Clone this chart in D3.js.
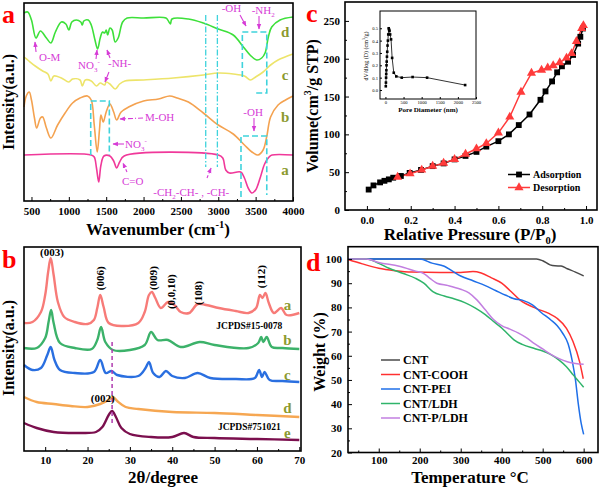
<!DOCTYPE html>
<html><head><meta charset="utf-8">
<script src="https://cdn.jsdelivr.net/npm/d3@7"></script>
<style>body{margin:0;background:#fff}svg{display:block}text{font-family:"Liberation Serif","Times New Roman",serif}</style>
</head><body><svg width="606" height="491"></svg>
<script>
// ---------- DATA ----------
// Panel a: FTIR spectra [wavenumber cm-1, intensity a.u.]
const ftirD = [[400,188],[450,189],[500,181],[560,163],[620,170],[700,163],[760,158],[820,169],[900,179],[960,177],[1000,171],[1040,179],[1100,181],[1160,179],[1180,176],[1200,180],[1260,181],[1300,176],[1350,161],[1385,152],[1420,163],[1450,169],[1480,168],[1500,171],[1520,166],[1550,173],[1580,171],[1620,159],[1660,163],[1720,179],[1780,183],[2000,183],[2300,183],[2340,179],[2360,177],[2380,182],[2600,182],[2800,178],[3000,172],[3200,166],[3336,154],[3425,146],[3514,141],[3581,143],[3626,148],[3670,164],[3715,174],[3827,181],[4000,184]];
const ftirC = [[400,144],[450,141],[550,135],[650,130],[720,127],[760,120],[800,125],[900,123],[1000,119],[1050,122],[1150,121],[1180,115],[1220,121],[1300,120],[1370,115],[1420,118],[1480,116],[1500,119],[1550,117],[1620,112],[1680,117],[1750,120],[2000,121],[2400,123],[2800,126],[3000,128],[3200,127],[3350,125],[3430,121],[3500,124],[3600,129],[3700,136],[3800,141],[4000,147]];
const ftirB = [[400,94],[430,105],[470,109],[500,101],[540,83],[570,73],[620,83],[650,84],[700,73],[760,63],[850,76],[950,88],[1050,98],[1150,103],[1250,105],[1300,101],[1340,76],[1380,49],[1410,71],[1430,86],[1460,79],[1500,89],[1550,97],[1600,89],[1640,81],[1700,89],[1800,94],[2000,100],[2200,102],[2350,105],[2450,103],[2600,99],[2800,88],[3000,76],[3200,67],[3350,56],[3450,49],[3530,46],[3600,51],[3650,65],[3700,84],[3800,96],[3900,101],[4000,105]];
const ftirA = [[400,46],[1300,46],[1340,44],[1370,33],[1400,19],[1430,36],[1470,45],[1550,45],[1600,40],[1640,33],[1680,39],[1740,45],[3000,46],[3060,43],[3100,31],[3150,28],[3300,29],[3350,23],[3400,13],[3450,8],[3500,11],[3560,23],[3620,37],[3680,44],[3720,46],[4000,46]];
const ftirTicks = [500,1000,1500,2000,2500,3000,3500,4000];

// Panel b: XRD [2theta, intensity a.u.]
const xrdA = [[5,128],[7,129],[9,139],[10,156],[10.7,179],[11.3,193],[12,176],[13,149],[14.5,134],[17,129],[20,127],[21.5,131],[22.3,143],[23,156],[23.8,144],[25,128],[28,125],[32,128],[33.5,139],[34.5,156],[35.2,159],[36,153],[37.3,143],[39,149],[40.5,146],[42,139],[44,138],[46,147],[48,146],[51,143],[55,140],[58,138],[59.8,143],[60.7,156],[61.3,153],[62,158],[62.8,148],[64,138],[65.7,143],[67,136],[70,138]];
const xrdB = [[5,103],[8,103],[10,113],[10.8,129],[11.4,141],[12,128],[13.5,108],[17,103],[21,102],[22.3,111],[23.2,124],[24.2,109],[26,101],[30,101],[33.5,106],[35,119],[36.5,111],[39,111],[42,104],[46.5,109],[50,106],[58,103],[60.3,108],[61,114],[61.5,109],[62.3,114],[63.5,104],[66,103],[70,102]];
const xrdC = [[5,86],[7,81],[9,83],[10.5,96],[11.3,104],[12.2,91],[13.5,81],[17,78],[21.5,79],[23,91],[24.3,78],[25.7,80],[27,76],[32,75],[33.7,83],[34.5,89],[35.5,78],[37,74],[38.5,80],[40,75],[43,73],[46,78],[49,73],[55,72],[59.5,73],[60.5,81],[61.2,74],[61.8,79],[63,71],[66,70],[70,69]];
const xrdD = [[5,54],[8,49],[12,47],[16,45],[20,44],[23,47],[25,51],[26,54],[27,50],[29,44],[32,42],[40,39],[50,38],[60,36],[70,34]];
const xrdE = [[5,28],[8,23],[12,19],[18,18],[22,19],[23.5,24],[25,36],[25.8,40],[26.7,34],[28,23],[30,17],[35,14],[40,14],[42.8,18],[45,14],[50,13],[60,12],[70,11]];
const xrdTicks = [10,20,30,40,50,60,70];

// Panel c: N2 isotherm [P/P0, volume cm3/g STP]
const adsorption = [[0.008,27],[0.03,32.5],[0.06,36.5],[0.08,38.6],[0.1,40.5],[0.12,42.7],[0.155,45],[0.195,49],[0.247,53],[0.3,58],[0.35,61.6],[0.4,66.9],[0.45,71.5],[0.5,76.8],[0.545,83.8],[0.6,91],[0.648,100],[0.693,112.3],[0.742,126.3],[0.792,145.7],[0.815,156.8],[0.845,170],[0.868,182],[0.89,190],[0.918,196],[0.941,205],[0.964,220],[0.974,229],[0.986,240]];
const desorption = [[0.14,43.5],[0.197,48],[0.25,53],[0.3,58],[0.35,62],[0.4,67],[0.45,74],[0.5,81],[0.545,88],[0.6,102],[0.652,123],[0.703,156],[0.751,181],[0.797,185],[0.825,188],[0.85,191],[0.88,195],[0.911,201],[0.934,207],[0.956,223],[0.98,240],[0.988,244]];
const pressTicks = [0,0.2,0.4,0.6,0.8,1.0];
const volTicks = [0,50,100,150,200,250];
// inset: pore size distribution [nm, dV/dlogD]
const poreDist = [[10,0.03],[14,0.06],[18,0.1],[22,0.13],[26,0.16],[30,0.2],[35,0.23],[42,0.27],[50,0.31],[58,0.36],[68,0.4],[78,0.45],[90,0.5],[100,0.49],[112,0.48],[130,0.45],[155,0.41],[185,0.26],[230,0.14],[300,0.11],[450,0.1],[750,0.105],[1150,0.1],[2200,0.04]];
const poreTicks = [0,500,1000,1500,2000,2500];
const dvTicks = [0,0.1,0.2,0.3,0.4,0.5];

// Panel d: TGA [temperature C, weight %]
const tgaCNT = [[25,100],[100,100],[300,100],[485,100],[500,99.3],[518,97.6],[530,97.2],[545,97.1],[560,96],[580,94.6],[600,93]];
const tgaCOOH = [[25,99.8],[60,98],[100,96.2],[140,95.2],[180,94.6],[250,94.4],[300,94.4],[330,94.8],[350,94.2],[375,92.2],[400,90],[420,87],[445,83],[485,79.5],[515,77.5],[535,75.5],[558,71.3],[574,65.9],[590,57.6],[599,50.5]];
const tgaPEI = [[25,100],[100,100],[200,100],[230,98.3],[260,97],[280,95],[300,93],[330,91],[360,89],[385,87],[410,85],[430,83.6],[450,83],[475,81],[497,77.8],[520,74.8],[535,72.5],[550,69],[562,65],[572,58],[580,50],[587,40],[594,32],[600,27.5]];
const tgaLDH = [[25,100],[70,100],[100,98.2],[125,96.2],[160,94],[190,92],[210,90],[232,86.5],[260,84.7],[285,83.5],[310,82],[335,79.8],[360,77],[380,74.2],[400,71.5],[415,69],[430,66.6],[450,64.7],[480,63],[500,62],[520,60.5],[540,58.2],[558,55.5],[575,52],[590,49],[600,47]];
const tgaPLDH = [[25,100],[70,100],[100,98.6],[150,97],[190,95],[210,94],[225,92],[242,90],[270,89],[300,87.5],[320,86],[340,83],[360,79],[380,75],[400,72.5],[420,71],[440,69.5],[460,67.5],[480,65],[500,62.8],[520,60.6],[540,58.8],[560,57.5],[580,56.8],[600,56.5]];
const tempTicks = [100,200,300,400,500,600];
const weightTicks = [20,30,40,50,60,70,80,90,100];
const tgaNames = ["CNT","CNT-COOH","CNT-PEI","CNT/LDH","CNT-P/LDH"];

// ---------- DRAWING ----------
const svg = d3.select("svg");
const SERIF = '"Liberation Serif","Times New Roman",serif';
const MAG = "#d63cd6", CYAN = "#3fd3dc", OLIVE = "#8c9a30";
const defs = svg.append("defs");
defs.append("marker").attr("id","arr").attr("viewBox","0 0 10 10").attr("refX",9).attr("refY",5)
  .attr("markerWidth",5).attr("markerHeight",5).attr("orient","auto")
  .append("path").attr("d","M0,1L10,5L0,9z").attr("fill",MAG);

function styleText(s, fs){ s.selectAll("text").attr("font-size",fs).attr("font-weight","bold").attr("font-family",SERIF).attr("fill","#000"); }
function xAxis(x, y0, major, minor, fmt, pad, fs){
  if(minor) svg.append("g").attr("transform",`translate(0,${y0})`).call(d3.axisBottom(x).tickValues(minor).tickSize(-2).tickFormat("")).call(s=>s.select(".domain").remove());
  svg.append("g").attr("transform",`translate(0,${y0})`).call(d3.axisBottom(x).tickValues(major).tickSize(-4).tickPadding(pad).tickFormat(fmt)).call(s=>{s.select(".domain").remove();styleText(s,fs);});
}
function yAxis(y, x0, major, minor, fmt, pad, fs){
  if(minor) svg.append("g").attr("transform",`translate(${x0},0)`).call(d3.axisLeft(y).tickValues(minor).tickSize(-2).tickFormat("")).call(s=>s.select(".domain").remove());
  svg.append("g").attr("transform",`translate(${x0},0)`).call(d3.axisLeft(y).tickValues(major).tickSize(-4).tickPadding(pad).tickFormat(fmt)).call(s=>{s.select(".domain").remove();styleText(s,fs);});
}
function frame(x, y, sw){
  svg.append("rect").attr("x",x.range()[0]).attr("y",y.range()[1]).attr("width",x.range()[1]-x.range()[0]).attr("height",y.range()[0]-y.range()[1])
    .attr("fill","none").attr("stroke","#000").attr("stroke-width",sw||1.6);
}
// parts: [text, dy, small]
function title(txt, x, y, fs, rot, parts){
  const t = svg.append("text").attr("font-size",fs).attr("font-weight","bold").attr("text-anchor","middle").attr("fill","#000")
    .attr("transform",`translate(${x},${y})${rot?" rotate(-90)":""}`);
  (parts||[[txt]]).forEach(p=>{ const ts=t.append("tspan").text(p[0]); if(p[1]) ts.attr("dy",p[1]); if(p[2]) ts.attr("font-size",fs*0.62); });
  return t;
}
function panelLetter(l,x,y){ svg.append("text").attr("x",x).attr("y",y).attr("font-size",26).attr("font-weight","bold").attr("fill","#ff0000").text(l); }

// ===== Panel a =====
const xA = d3.scaleLinear().domain([400,4000]).range([24,293]);
const yA = d3.scaleLinear().domain([0,198]).range([201,3]);
const lineA = d3.line().x(d=>xA(d[0])).y(d=>yA(d[1])).curve(d3.curveCatmullRom.alpha(0.5));
[[ftirD,"#3de03a"],[ftirC,"#ede46a"],[ftirB,"#f4a250"],[ftirA,"#f0389a"]].forEach(([d,c])=>
  svg.append("path").datum(d).attr("d",lineA).attr("fill","none").attr("stroke",c).attr("stroke-width",1.6));
// cyan guides
const guide = d3.line().x(d=>xA(d[0])).y(d=>yA(d[1]));
[[[2832,186],[2832,34]],[[2988,186],[2988,34]]].forEach(p=>svg.append("path").attr("d",guide(p)).attr("fill","none").attr("stroke",CYAN).attr("stroke-width",1.3).attr("stroke-dasharray","6,2,1.5,2"));
[[[1293,46],[1293,100],[1542,100],[1542,46]],
 [[3322,124],[3322,169],[3649,169],[3649,108],[3480,108]],
 [[3304,4],[3304,65],[3649,65],[3649,6]]].forEach(p=>svg.append("path").attr("d",guide(p)).attr("fill","none").attr("stroke",CYAN).attr("stroke-width",1.6).attr("stroke-dasharray","6,3"));
frame(xA,yA);
xAxis(xA,201,ftirTicks,[750,1250,1750,2250,2750,3250,3750],d3.format("d"),6,11);
// annotations
const annA = [
  ["O-M",600,140],["-NH-",1524,134],["M-OH",2019,80],["C=O",1712,16],["-OH",3046,189],["-OH",3335,85]];
annA.forEach(a=>svg.append("text").attr("x",xA(a[1])).attr("y",yA(a[2])).attr("font-size",11).attr("fill",MAG).text(a[0]));
function chem(parts, wx, au){
  const t = svg.append("text").attr("x",xA(wx)).attr("y",yA(au)).attr("font-size",11).attr("fill",MAG);
  parts.forEach(p=>{const ts=t.append("tspan").text(p[0]); if(p[1]) ts.attr("dy",p[1]); if(p[2]) ts.attr("font-size",7);});
}
chem([["NO"],["3",3,true],["-",-8,true]],1123,132);
chem([["NO"],["3",3,true],["-",-8,true]],1752,53);
chem([["-CH"],["2",3,true],["-CH- , -CH-",-3]],2131,5);
chem([["-NH"],["2",3,true]],3447,187);
const arrowsA = [[[561,149],[547,159],""],[[1364,142],[1377,151],""],[[1551,143],[1511,151],""],[[1537,129],[1484,119],""],
  [[1993,83],[1685,82],"5,2,1,2"],[[1738,57],[1591,57],""],[[1778,29],[1725,38],"3,2"],[[2849,23],[2903,33],"3,2"],
  [[3291,186],[3371,175],""],[[3545,185],[3545,172],""],[[3478,83],[3478,70],""]];
arrowsA.forEach(a=>svg.append("path").attr("d",guide([a[0],a[1]])).attr("stroke",MAG).attr("stroke-width",1.1).attr("fill","none").attr("stroke-dasharray",a[2]||null).attr("marker-end","url(#arr)"));
[["d",164],["c",121],["b",79],["a",26]].forEach(l=>svg.append("text").attr("x",xA(3894)).attr("y",yA(l[1])).attr("font-size",15).attr("font-weight","bold").attr("fill",OLIVE).attr("text-anchor","middle").text(l[0]));
title("",158,235,17,false,[["Wavenumber (cm"],["-1",-7,true],[")",7]]);
title("Intensity(a.u.)",14,102,16,true);
panelLetter("a",2,23);

// ===== Panel b =====
const xB = d3.scaleLinear().domain([5,70.4]).range([24,301]);
const yB = d3.scaleLinear().domain([0,204]).range([451,247]);
const lineB = d3.line().x(d=>xB(d[0])).y(d=>yB(d[1])).curve(d3.curveCatmullRom.alpha(0.5));
[[xrdA,"#f77b78"],[xrdB,"#3cb26a"],[xrdC,"#2a6fe0"],[xrdD,"#f6a752"],[xrdE,"#7b0f4e"]].forEach(([d,c])=>
  svg.append("path").datum(d).attr("d",lineB).attr("fill","none").attr("stroke",c).attr("stroke-width",2.4));
svg.append("path").attr("d",d3.line().x(d=>xB(d[0])).y(d=>yB(d[1]))([[25.8,109],[25.8,26]])).attr("stroke","#b03cb0").attr("stroke-width",1.5).attr("stroke-dasharray","4,3");
frame(xB,yB);
xAxis(xB,451,xrdTicks,[15,25,35,45,55,65],d3.format("d"),5,11);
svg.append("text").attr("x",xB(11.6)).attr("y",yB(195)).attr("font-size",11).attr("font-weight","bold").attr("text-anchor","middle").text("(003)");
[["(006)",23.06,172.7],["(009)",35.6,173],["(0,0,10)",39.8,159.3],["(108)",46,158],["(112)",61,174.3]].forEach(l=>
  svg.append("text").attr("transform",`translate(${xB(l[1])},${yB(l[2])}) rotate(-90)`).attr("font-size",11).attr("font-weight","bold").attr("text-anchor","middle").attr("dy","0.35em").text(l[0]));
svg.append("text").attr("x",xB(23.6)).attr("y",yB(49)).attr("font-size",11).attr("font-weight","bold").attr("text-anchor","middle").text("(002)");
svg.append("text").attr("x",xB(58.2)).attr("y",yB(122)).attr("font-size",9.5).attr("font-weight","bold").attr("text-anchor","middle").text("JCPDS#15-0078");
svg.append("text").attr("x",xB(58.2)).attr("y",yB(21)).attr("font-size",9.5).attr("font-weight","bold").attr("text-anchor","middle").text("JCPDS#751021");
[["a",141],["b",106],["c",71],["d",38],["e",13]].forEach(l=>svg.append("text").attr("x",xB(67.2)).attr("y",yB(l[1])).attr("font-size",15).attr("font-weight","bold").attr("fill",OLIVE).attr("text-anchor","middle").text(l[0]));
title("2θ/degree",163,483,17,false);
title("Intensity(a.u.)",14,348,16,true);
panelLetter("b",2,268);

// ===== Panel c =====
const xC = d3.scaleLinear().domain([-0.1,1.05]).range([345,597]);
const yC = d3.scaleLinear().domain([0,275]).range([210,2]);
const lineC = d3.line().x(d=>xC(d[0])).y(d=>yC(d[1]));
svg.append("path").datum(adsorption).attr("d",lineC).attr("fill","none").attr("stroke","#000").attr("stroke-width",1.5);
svg.append("path").datum(desorption).attr("d",lineC).attr("fill","none").attr("stroke","#ff3b3b").attr("stroke-width",1.5);
const sq = d3.symbol().type(d3.symbolSquare).size(34), tri = d3.symbol().type(d3.symbolTriangle).size(36);
svg.append("g").selectAll("path").data(adsorption).join("path").attr("d",sq).attr("transform",d=>`translate(${xC(d[0])},${yC(d[1])})`).attr("fill","#000");
svg.append("g").selectAll("path").data(desorption).join("path").attr("d",tri).attr("transform",d=>`translate(${xC(d[0])},${yC(d[1])})`).attr("fill","#ff3b3b");
frame(xC,yC);
xAxis(xC,210,pressTicks,[0.1,0.3,0.5,0.7,0.9],d3.format(".1f"),6.5,11);
yAxis(yC,345,volTicks,[25,75,125,175,225],d3.format("d"),5,11);
// legend
[["Adsorption","#000",sq,174.5],["Desorption","#ff3b3b",tri,187.5]].forEach(l=>{
  svg.append("line").attr("x1",508).attr("x2",530).attr("y1",l[3]).attr("y2",l[3]).attr("stroke",l[1]).attr("stroke-width",1.5);
  svg.append("path").attr("d",l[2]).attr("transform",`translate(519,${l[3]})`).attr("fill",l[1]);
  svg.append("text").attr("x",533).attr("y",l[3]+3.5).attr("font-size",10).attr("font-weight","bold").text(l[0]);
});
// inset
const xI = d3.scaleLinear().domain([-150,2500]).range([380,476]);
const yI = d3.scaleLinear().domain([-0.073,0.64]).range([99,11]);
svg.append("rect").attr("x",380).attr("y",11).attr("width",96).attr("height",88).attr("fill","#fff");
svg.append("path").datum(poreDist).attr("d",d3.line().x(d=>xI(d[0])).y(d=>yI(d[1]))).attr("fill","none").attr("stroke","#000").attr("stroke-width",0.8);
svg.append("g").selectAll("rect").data(poreDist).join("rect").attr("x",d=>xI(d[0])-1.3).attr("y",d=>yI(d[1])-1.3).attr("width",2.6).attr("height",2.6).attr("fill","#000");
frame(xI,yI,1);
svg.append("g").attr("transform","translate(0,99)").call(d3.axisBottom(xI).tickValues(poreTicks).tickSize(-2).tickPadding(1.5).tickFormat(d3.format("d"))).call(s=>{s.select(".domain").remove();s.selectAll("text").attr("font-size",4.6).attr("font-family",SERIF).attr("fill","#000");});
svg.append("g").attr("transform","translate(380,0)").call(d3.axisLeft(yI).tickValues(dvTicks).tickSize(-2).tickPadding(2).tickFormat(d3.format(".1f"))).call(s=>{s.select(".domain").remove();s.selectAll("text").attr("font-size",4.6).attr("font-family",SERIF).attr("fill","#000");});
title("Pore Diameter (nm)",428,111.5,7,false);
title("",368,56,6,true,[["dV/dlog (D) (cm"],["3",-3,true],["/g)",3]]).attr("font-weight","normal");
title("",470,240,17,false,[["Relative Pressure (P/P"],["0",4,true],[")",-4]]);
title("",318,106,16,true,[["Volume(cm"],["3",-7,true],["/g STP)",7]]);
panelLetter("c",306,22);

// ===== Panel d =====
const xD = d3.scaleLinear().domain([25,635]).range([348,598]);
const yD = d3.scaleLinear().domain([20,105.1]).range([452.5,246.7]);
const lineD = d3.line().x(d=>xD(d[0])).y(d=>yD(d[1])).curve(d3.curveMonotoneX);
const tgaColors = ["#4a4a4a","#ff3030","#1f6fe8","#2fb46a","#c27fe0"];
[tgaCNT,tgaCOOH,tgaPEI,tgaLDH,tgaPLDH].forEach((d,i)=>
  svg.append("path").datum(d).attr("d",lineD).attr("fill","none").attr("stroke",tgaColors[i]).attr("stroke-width",1.5));
frame(xD,yD);
xAxis(xD,452.5,tempTicks,[50,150,250,350,450,550],d3.format("d"),4,11);
yAxis(yD,348,weightTicks,[25,35,45,55,65,75,85,95],d3.format("d"),6,11);
tgaNames.forEach((n,i)=>{
  const y = 360 + i*14.5;
  svg.append("line").attr("x1",381).attr("x2",400).attr("y1",y).attr("y2",y).attr("stroke",tgaColors[i]).attr("stroke-width",1.5);
  svg.append("text").attr("x",403).attr("y",y+4).attr("font-size",12).attr("font-weight","bold").text(n);
});
title("Temperature °C",470,483,17,false);
title("Weight (%)",325,352,16,true);
panelLetter("d",306,271);
</script></body></html>
